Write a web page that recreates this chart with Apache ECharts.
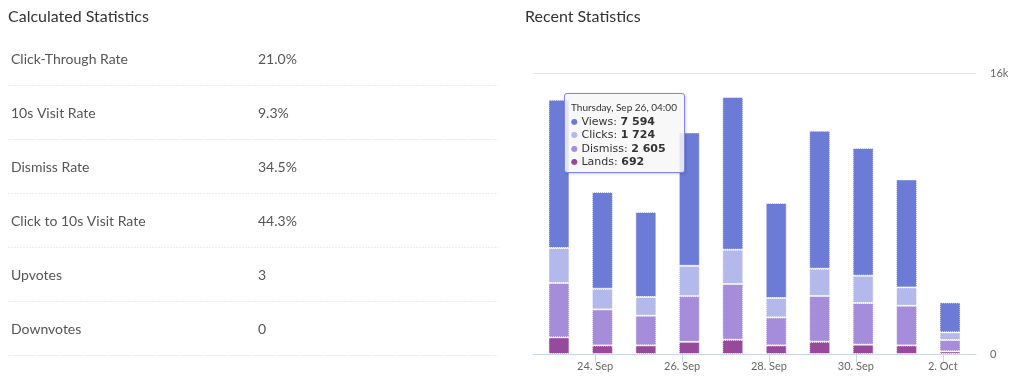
<!DOCTYPE html>
<html><head><meta charset="utf-8">
<script src="https://cdn.jsdelivr.net/npm/echarts@6/dist/echarts.min.js"></script>
<style>html,body{margin:0;padding:0;background:#fff}#c{width:1024px;height:383px}</style>
</head><body><div id="c"></div>
<script>
const statLabels = ['Click-Through Rate', '10s Visit Rate', 'Dismiss Rate', 'Click to 10s Visit Rate', 'Upvotes', 'Downvotes'];
const statValues = ['21.0%', '9.3%', '34.5%', '44.3%', '3', '0'];

const categories = ['2019-09-23 04:00', '2019-09-24 04:00', '2019-09-25 04:00', '2019-09-26 04:00', '2019-09-27 04:00',
                    '2019-09-28 04:00', '2019-09-29 04:00', '2019-09-30 04:00', '2019-10-01 04:00', '2019-10-02 04:00'];
const views   = [8444, 5506, 4839, 7594, 8695, 5409, 7858, 7272, 6150, 1708];
const clicks  = [1993, 1178, 1065, 1724, 1953, 1105, 1554, 1554, 1042, 433];
const dismiss = [3098, 2050, 1691, 2605, 3172, 1594, 2603, 2374, 2260, 649];
const lands   = [945, 490, 490, 692, 814, 490, 700, 530, 490, 148];

const tickDates  = ['2019-09-24', '2019-09-26', '2019-09-28', '2019-09-30', '2019-10-02'];
const tickLabels = ['24. Sep', '26. Sep', '28. Sep', '30. Sep', '2. Oct'];
const yTickValues = [0, 16000];
const yTickLabels = ['0', '16k'];

const titles = ['Calculated Statistics', 'Recent Statistics'];
const seriesNames = ['Views', 'Clicks', 'Dismiss', 'Lands'];
const tooltipIndex = 3;

function toTime(s) {
  const parts = s.split(' ');
  const d = parts[0].split('-').map(Number);
  const t = (parts[1] || '00:00').split(':').map(Number);
  return new Date(d[0], d[1] - 1, d[2], t[0], t[1]).getTime();
}
const colors = { Views: '#6c7bd6', Clicks: '#b3b9ea', Dismiss: '#a68ddc', Lands: '#974a9c' };
const seriesData = { Views: views, Clicks: clicks, Dismiss: dismiss, Lands: lands };
const tickTimes = tickDates.map(toTime);
const FONT = 'Lato, "Noto Sans", sans-serif';

function fmtNum(n) { return String(n).replace(/\B(?=(\d{3})+(?!\d))/g, ' '); }
const WEEK = ['Sunday','Monday','Tuesday','Wednesday','Thursday','Friday','Saturday'];
const MON = ['Jan','Feb','Mar','Apr','May','Jun','Jul','Aug','Sep','Oct','Nov','Dec'];
function pad(n) { return (n < 10 ? '0' : '') + n; }

const graphics = [];
graphics.push({ type: 'text', left: 8, top: 9, style: { text: titles[0], font: '16px ' + FONT, fill: '#333' } });
graphics.push({ type: 'text', left: 525, top: 9, style: { text: titles[1], font: '16px ' + FONT, fill: '#333' } });
statLabels.forEach((lab, i) => {
  const y = 59 + 54 * i;
  graphics.push({ type: 'text', x: 11, y: y, style: { text: lab, font: '14px ' + FONT, fill: '#555', verticalAlign: 'middle' } });
  graphics.push({ type: 'text', x: 258, y: y, style: { text: statValues[i], font: '14px ' + FONT, fill: '#555', verticalAlign: 'middle' } });
  graphics.push({ type: 'line', shape: { x1: 8, y1: y + 26.5, x2: 498, y2: y + 26.5 }, style: { stroke: '#ececec', lineWidth: 1, lineDash: [2, 1] } });
});

const stackOrder = ['Lands', 'Dismiss', 'Clicks', 'Views'];
const series = stackOrder.map(name => ({
  name: name,
  type: 'bar',
  stack: 'total',
  barWidth: 21,
  encode: { x: 1, y: 0 },
  data: categories.map((c, i) => [seriesData[name][i], toTime(c)]),
  itemStyle: { color: colors[name], borderColor: '#ffffff', borderWidth: 1, borderType: 'dotted' },
  emphasis: { disabled: true }
}));

const chart = echarts.init(document.getElementById('c'));
chart.setOption({
  animation: false,
  textStyle: { fontFamily: FONT },
  graphic: graphics,
  grid: { left: 533, right: 48, top: 73, bottom: 29 },
  xAxis: {
    type: 'value',
    min: toTime('2019-09-22 13:40'),
    max: toTime('2019-10-02 18:20'),
    axisLine: { lineStyle: { color: '#ccd6eb' } },
    axisTick: { show: true, length: 8, lineStyle: { color: '#ccd6eb' }, customValues: tickTimes },
    axisLabel: {
      customValues: tickTimes, color: '#666', fontSize: 11, margin: 7, fontFamily: FONT,
      formatter: v => { const k = tickTimes.indexOf(v); return k >= 0 ? tickLabels[k] : ''; }
    },
    splitLine: { show: false }
  },
  yAxis: {
    type: 'value', position: 'right', min: 0, max: 16000, interval: 16000,
    axisLine: { show: false }, axisTick: { show: false },
    axisLabel: { color: '#666', fontSize: 11, margin: 14, fontFamily: FONT,
      formatter: v => { const k = yTickValues.indexOf(v); return k >= 0 ? yTickLabels[k] : ''; } },
    splitLine: { lineStyle: { color: '#e6e6e6' } }
  },
  tooltip: {
    trigger: 'item',
    alwaysShowContent: true,
    transitionDuration: 0,
    position: [564, 93],
    backgroundColor: 'rgba(247,247,247,0.85)',
    borderColor: '#7d86db',
    borderWidth: 1,
    borderRadius: 3,
    padding: [6, 7, 4, 6],
    extraCssText: 'box-shadow:1px 1px 3px rgba(0,0,0,0.18);',
    formatter: p => {
      const i = p.dataIndex;
      const d = new Date(toTime(categories[i]));
      const header = WEEK[d.getDay()] + ', ' + MON[d.getMonth()] + ' ' + d.getDate() + ', ' + pad(d.getHours()) + ':' + pad(d.getMinutes());
      let h = '<div style="color:#333">';
      h += '<div style="font-family:Lato,sans-serif;font-size:10px;line-height:15px">' + header + '</div>';
      seriesNames.forEach(n => {
        h += '<div style="font-family:\'DejaVu Sans\',sans-serif;font-size:11px;line-height:13.3px;white-space:nowrap"><span style="color:' + colors[n] + ';font-size:8px;vertical-align:1px">\u25CF</span> ' + n + ': <b>' + fmtNum(seriesData[n][i]) + '</b></div>';
      });
      return h + '</div>';
    }
  },
  series: series
});
chart.dispatchAction({ type: 'showTip', seriesIndex: 3, dataIndex: tooltipIndex });
</script>
</body></html>
